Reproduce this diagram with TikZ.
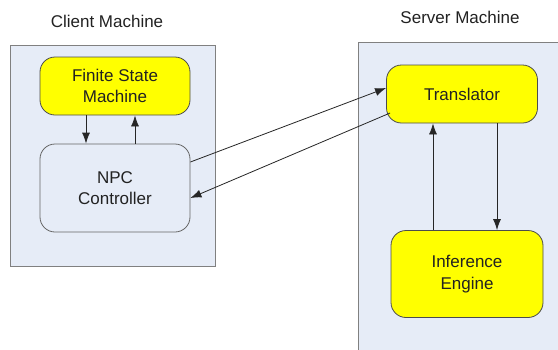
\documentclass[tikz,border=0pt]{standalone}
\usepackage{fontspec}
\setmainfont{Liberation Sans}
\usetikzlibrary{arrows.meta}
\definecolor{boxfill}{HTML}{E6ECF7}
\definecolor{boxline}{HTML}{808080}
\definecolor{ylw}{HTML}{FFFF00}
\definecolor{txt}{HTML}{222222}
\tikzset{
  machine/.style={draw=boxline, line width=1pt, fill=boxfill},
  yellowbox/.style={draw=black!70, line width=0.8pt, fill=ylw, rounded corners=15pt, align=center, text=txt, font=\fontsize{17}{21.5}\selectfont},
  bluebox/.style={draw=black!60, line width=0.8pt, fill=boxfill, rounded corners=15pt, align=center, text=txt, font=\fontsize{17}{21.5}\selectfont},
  title/.style={text=txt, font=\fontsize{17}{20}\selectfont},
  arr/.style={draw=black!85, line width=0.8pt, -{Latex[length=11pt,width=8pt]}}
}
\begin{document}
\begin{tikzpicture}[x=1pt,y=-1pt]
\clip (0,0) rectangle (558,349);
\fill[white] (0,0) rectangle (558,349);
% machines
\draw[machine] (10,45) rectangle (215,266);
\draw[machine] (358,42) rectangle (575,370);
\node[title] (clientlbl) at (107,21) {Client Machine};
\node[title] (serverlbl) at (460,17) {Server Machine};
% nodes
\node[yellowbox, minimum width=150pt, minimum height=58pt] (fsm) at (115,86) {Finite State\\Machine};
\node[bluebox, minimum width=150pt, minimum height=88pt] (npc) at (115,188) {NPC\\Controller};
\node[yellowbox, minimum width=151pt, minimum height=58pt] (tr) at (462,94) {Translator};
\node[yellowbox, minimum width=152pt, minimum height=87pt] (ie) at (467,274) {Inference\\Engine};
% arrows
\draw[arr] ([xshift=-29pt]fsm.south) -- ([xshift=-29pt]npc.north);
\draw[arr] ([xshift=20pt]npc.north) -- ([xshift=20pt]fsm.south);
\draw[arr] ([yshift=26pt]npc.east) -- ([yshift=6pt]tr.west);
\draw[arr] ([xshift=4pt,yshift=-19pt]tr.west) -- ([yshift=-10pt]npc.east);
\draw[arr] ([xshift=-34pt]ie.north) -- ([xshift=-29pt]tr.south);
\draw[arr] ([xshift=35pt]tr.south) -- ([xshift=30pt]ie.north);
\end{tikzpicture}
\end{document}
